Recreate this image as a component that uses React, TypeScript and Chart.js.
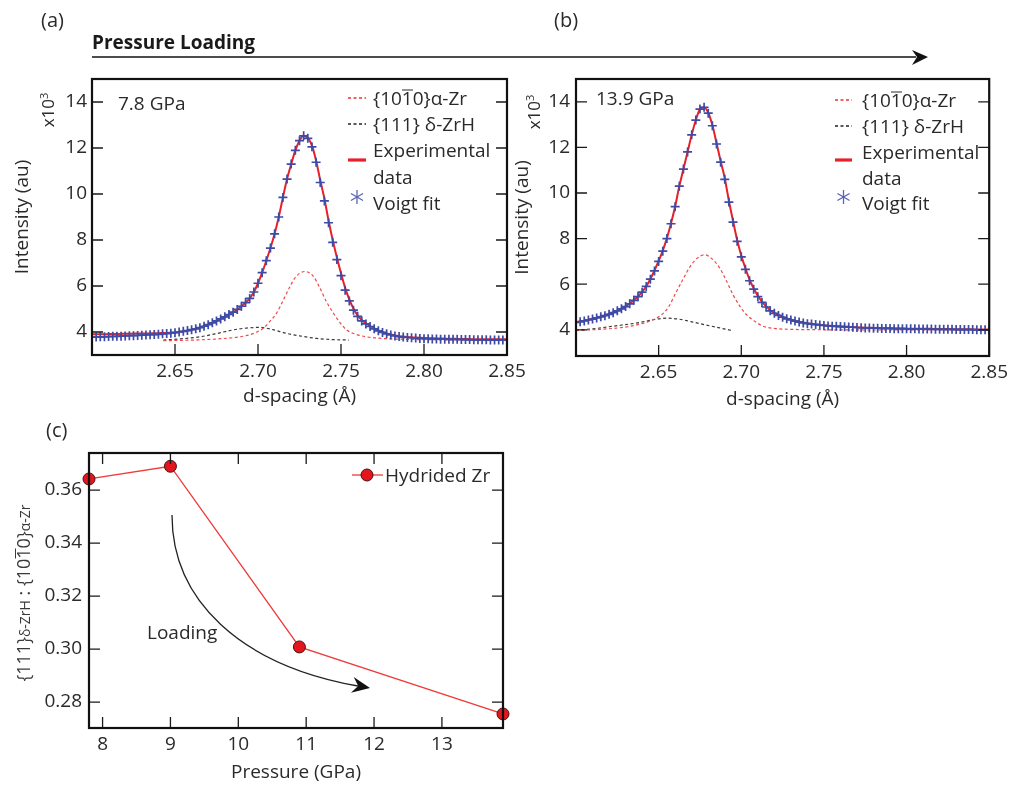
import React, { useEffect, useRef } from 'react';
import { Chart, registerables } from 'chart.js';

Chart.register(...registerables);

// ---------- data ----------
const dSpacing = [
  2.6000, 2.6025, 2.6050, 2.6075, 2.6100, 2.6125, 2.6150, 2.6175, 2.6200, 2.6225,
  2.6250, 2.6275, 2.6300, 2.6325, 2.6350, 2.6375, 2.6400, 2.6425, 2.6450, 2.6475,
  2.6500, 2.6525, 2.6550, 2.6575, 2.6600, 2.6625, 2.6650, 2.6675, 2.6700, 2.6725,
  2.6750, 2.6775, 2.6800, 2.6825, 2.6850, 2.6875, 2.6900, 2.6925, 2.6950, 2.6975,
  2.7000, 2.7025, 2.7050, 2.7075, 2.7100, 2.7125, 2.7150, 2.7175, 2.7200, 2.7225,
  2.7250, 2.7275, 2.7300, 2.7325, 2.7350, 2.7375, 2.7400, 2.7425, 2.7450, 2.7475,
  2.7500, 2.7525, 2.7550, 2.7575, 2.7600, 2.7625, 2.7650, 2.7675, 2.7700, 2.7725,
  2.7750, 2.7775, 2.7800, 2.7825, 2.7850, 2.7875, 2.7900, 2.7925, 2.7950, 2.7975,
  2.8000, 2.8025, 2.8050, 2.8075, 2.8100, 2.8125, 2.8150, 2.8175, 2.8200, 2.8225,
  2.8250, 2.8275, 2.8300, 2.8325, 2.8350, 2.8375, 2.8400, 2.8425, 2.8450, 2.8475,
  2.8500,
];

// (a) 7.8 GPa, intensity x10^3
const fitA = [
  3.78, 3.78, 3.79, 3.79, 3.80, 3.81, 3.81, 3.82, 3.83, 3.84,
  3.84, 3.85, 3.86, 3.87, 3.88, 3.89, 3.90, 3.92, 3.93, 3.95,
  3.97, 4.00, 4.03, 4.06, 4.10, 4.14, 4.19, 4.25, 4.32, 4.40,
  4.48, 4.57, 4.66, 4.76, 4.86, 4.98, 5.12, 5.28, 5.46, 5.74,
  6.12, 6.58, 7.10, 7.65, 8.27, 9.00, 9.85, 10.65, 11.30, 11.90,
  12.32, 12.53, 12.42, 12.05, 11.38, 10.50, 9.70, 8.75, 7.90, 7.15,
  6.45, 5.82, 5.35, 4.95, 4.68, 4.48, 4.35, 4.24, 4.14, 4.05,
  3.98, 3.92, 3.87, 3.83, 3.80, 3.78, 3.76, 3.75, 3.74, 3.72,
  3.71, 3.71, 3.70, 3.70, 3.69, 3.69, 3.68, 3.68, 3.68, 3.67,
  3.67, 3.67, 3.66, 3.66, 3.66, 3.66, 3.65, 3.65, 3.65, 3.65,
  3.65,
];
const expA = [
  3.90, 3.90, 3.90, 3.90, 3.91, 3.91, 3.91, 3.92, 3.92, 3.92,
  3.93, 3.93, 3.93, 3.94, 3.94, 3.95, 3.95, 3.96, 3.96, 3.97,
  3.98, 4.00, 4.03, 4.06, 4.10, 4.14, 4.19, 4.25, 4.32, 4.40,
  4.48, 4.57, 4.66, 4.76, 4.86, 4.98, 5.12, 5.28, 5.46, 5.74,
  6.12, 6.58, 7.10, 7.65, 8.27, 9.00, 9.85, 10.65, 11.30, 11.90,
  12.32, 12.53, 12.44, 12.10, 11.45, 10.60, 9.80, 8.85, 8.00, 7.25,
  6.55, 5.92, 5.42, 5.02, 4.72, 4.52, 4.38, 4.26, 4.16, 4.07,
  4.00, 3.94, 3.89, 3.85, 3.82, 3.80, 3.78, 3.77, 3.76, 3.75,
  3.74, 3.73, 3.73, 3.72, 3.72, 3.71, 3.71, 3.71, 3.70, 3.70,
  3.70, 3.69, 3.69, 3.69, 3.69, 3.68, 3.68, 3.68, 3.68, 3.68,
  3.68,
];
const alphaAx = [2.643, 2.665, 2.678, 2.689, 2.695, 2.699, 2.7032, 2.707, 2.7112, 2.715, 2.7193, 2.723, 2.7282, 2.733, 2.7373, 2.741, 2.7454, 2.7495, 2.7534, 2.759, 2.7654, 2.775, 2.79, 2.81, 2.85];
const alphaAy = [3.62, 3.66, 3.71, 3.79, 3.88, 3.99, 4.16, 4.45, 4.82, 5.35, 5.98, 6.42, 6.63, 6.45, 5.91, 5.35, 4.82, 4.40, 4.09, 3.90, 3.79, 3.72, 3.68, 3.66, 3.64];
const deltaAx = [2.643, 2.655, 2.665, 2.675, 2.685, 2.693, 2.7012, 2.709, 2.7172, 2.726, 2.7353, 2.745, 2.7547];
const deltaAy = [3.65, 3.71, 3.79, 3.93, 4.09, 4.17, 4.20, 4.10, 3.94, 3.82, 3.72, 3.67, 3.65];

// (b) 13.9 GPa
const fitB = [
  4.32, 4.35, 4.39, 4.43, 4.47, 4.52, 4.57, 4.62, 4.68, 4.75,
  4.83, 4.92, 5.02, 5.14, 5.29, 5.45, 5.65, 5.90, 6.22, 6.58,
  7.00, 7.45, 8.00, 8.65, 9.40, 10.30, 11.05, 11.80, 12.55, 13.20,
  13.68, 13.76, 13.50, 12.95, 12.15, 11.35, 10.60, 9.60, 8.72, 7.88,
  7.20, 6.65, 6.15, 5.78, 5.45, 5.20, 5.00, 4.83, 4.72, 4.63,
  4.55, 4.48, 4.43, 4.38, 4.34, 4.30, 4.27, 4.25, 4.23, 4.21,
  4.19, 4.17, 4.16, 4.15, 4.14, 4.13, 4.12, 4.11, 4.10, 4.09,
  4.08, 4.08, 4.07, 4.07, 4.06, 4.06, 4.06, 4.05, 4.05, 4.05,
  4.04, 4.04, 4.04, 4.03, 4.03, 4.03, 4.03, 4.02, 4.02, 4.02,
  4.02, 4.02, 4.01, 4.01, 4.01, 4.01, 4.01, 4.00, 4.00, 4.00,
  4.00,
];
const expB = [
  4.34, 4.37, 4.40, 4.44, 4.48, 4.53, 4.58, 4.63, 4.69, 4.76,
  4.84, 4.93, 5.03, 5.15, 5.30, 5.46, 5.66, 5.91, 6.23, 6.60,
  7.02, 7.47, 8.02, 8.67, 9.42, 10.30, 11.05, 11.80, 12.55, 13.20,
  13.68, 13.76, 13.52, 12.98, 12.20, 11.40, 10.65, 9.66, 8.78, 7.94,
  7.26, 6.70, 6.20, 5.82, 5.49, 5.23, 5.03, 4.86, 4.74, 4.65,
  4.57, 4.50, 4.45, 4.40, 4.36, 4.32, 4.29, 4.26, 4.24, 4.22,
  4.20, 4.18, 4.17, 4.16, 4.15, 4.14, 4.13, 4.12, 4.11, 4.10,
  4.09, 4.09, 4.08, 4.08, 4.07, 4.07, 4.07, 4.06, 4.06, 4.06,
  4.05, 4.05, 4.05, 4.04, 4.04, 4.04, 4.04, 4.03, 4.03, 4.03,
  4.03, 4.03, 4.02, 4.02, 4.02, 4.02, 4.02, 4.01, 4.01, 4.01,
  4.01,
];
const alphaBx = [2.600, 2.6145, 2.6266, 2.636, 2.6445, 2.6507, 2.656, 2.6608, 2.665, 2.6688, 2.673, 2.6779, 2.6825, 2.687, 2.691, 2.695, 2.699, 2.703, 2.708, 2.7131, 2.720, 2.730, 2.750, 2.800, 2.850];
const alphaBy = [3.97, 4.02, 4.09, 4.20, 4.38, 4.60, 5.00, 5.68, 6.25, 6.75, 7.12, 7.29, 7.10, 6.70, 6.15, 5.54, 5.05, 4.67, 4.38, 4.16, 4.06, 4.02, 4.00, 3.99, 3.99];
const deltaBx = [2.600, 2.610, 2.6185, 2.627, 2.637, 2.646, 2.6548, 2.662, 2.670, 2.678, 2.687, 2.695];
const deltaBy = [3.98, 4.04, 4.12, 4.20, 4.30, 4.43, 4.51, 4.47, 4.35, 4.22, 4.08, 3.96];

// (c)
const pressureGPa = [7.8, 9.0, 10.9, 13.9];
const peakRatio = [0.3642, 0.3690, 0.3008, 0.2755];

// tick labels
const dTicks = [2.65, 2.70, 2.75, 2.80, 2.85];
const intensityTicks = [4, 6, 8, 10, 12, 14];
const pressureTicks = [8, 9, 10, 11, 12, 13];
const ratioTicks = [0.28, 0.30, 0.32, 0.34, 0.36];

// ---------- styling ----------
const FONT = '"Open Sans", "Noto Sans", sans-serif';
const TXT = '#2a2a2a';
const RED = '#e8202a';
const BLUE = '#3d4ba5';
const FS = 19;

const zip = (xs: number[], ys: number[]) => xs.map((x, i) => ({ x, y: ys[i] }));

const frameTicks = {
  id: 'frameTicks',
  afterDatasetsDraw(chart: any, _args: any, opts: any) {
    const { ctx, chartArea: a, scales } = chart;
    const L = opts.len ?? 11;
    ctx.save();
    ctx.strokeStyle = '#1a1a1a';
    ctx.lineWidth = 1.3;
    ctx.beginPath();
    scales.x.ticks.forEach((t: any) => {
      const px = scales.x.getPixelForValue(t.value);
      ctx.moveTo(px, a.bottom);
      ctx.lineTo(px, a.bottom - L);
      if (opts.top) {
        ctx.moveTo(px, a.top);
        ctx.lineTo(px, a.top + L);
      }
    });
    scales.y.ticks.forEach((t: any) => {
      const py = scales.y.getPixelForValue(t.value);
      ctx.moveTo(a.left, py);
      ctx.lineTo(a.left + L, py);
      if (opts.right) {
        ctx.moveTo(a.right, py);
        ctx.lineTo(a.right - L, py);
      }
    });
    ctx.stroke();
    ctx.lineWidth = 2.2;
    ctx.strokeStyle = '#111';
    ctx.strokeRect(a.left, a.top, a.right - a.left, a.bottom - a.top);
    ctx.restore();
  },
};

const tickFont = { family: FONT, size: FS };

function spectrumConfig(
  fit: number[], exp: number[], ax: number[], ay: number[], bx: number[], by: number[],
  yMin: number, pad: any, yWidth: number, xHeight: number, yTickPad: number, xTitlePad: number,
): any {
  return {
    type: 'scatter',
    data: {
      datasets: [
        {
          label: 'Voigt fit', data: zip(dSpacing, fit), showLine: false,
          pointStyle: 'cross', pointRadius: 4.5, pointBorderWidth: 1.7,
          borderColor: BLUE, backgroundColor: BLUE,
        },
        {
          label: 'Experimental data', data: zip(dSpacing, exp), showLine: true,
          borderColor: RED, borderWidth: 2, pointRadius: 0, cubicInterpolationMode: 'monotone',
        },
        {
          label: '{10-10} α-Zr', data: zip(ax, ay), showLine: true,
          borderColor: '#f04848', borderWidth: 1.2, borderDash: [3, 2.5], pointRadius: 0,
          cubicInterpolationMode: 'monotone',
        },
        {
          label: '{111} δ-ZrH', data: zip(bx, by), showLine: true,
          borderColor: '#3a3a3a', borderWidth: 1.2, borderDash: [3, 2.5], pointRadius: 0,
          cubicInterpolationMode: 'monotone',
        },
      ],
    },
    options: {
      responsive: false,
      animation: false,
      devicePixelRatio: 1,
      layout: { padding: pad },
      plugins: { legend: { display: false }, tooltip: { enabled: false }, frameTicks: { right: true, top: false, len: 11 } },
      scales: {
        x: {
          type: 'linear', min: 2.6, max: 2.85,
          grid: { display: false, drawTicks: false }, border: { display: false },
          ticks: { autoSkip: false, maxRotation: 0, padding: 5, color: TXT, font: tickFont, callback: (v: any) => Number(v).toFixed(2) },
          title: { display: true, text: 'd-spacing (Å)', color: TXT, font: tickFont, padding: { top: 0, bottom: xTitlePad } },
          afterBuildTicks: (s: any) => { s.ticks = dTicks.map((v) => ({ value: v })); },
          afterFit: (s: any) => { s.height = xHeight; },
        },
        y: {
          type: 'linear', min: yMin, max: 15,
          grid: { display: false, drawTicks: false }, border: { display: false },
          ticks: { autoSkip: false, padding: yTickPad, color: TXT, font: tickFont, callback: (v: any) => String(v) },
          title: { display: true, text: 'Intensity (au)', color: TXT, font: tickFont, padding: { top: 11, bottom: 0 } },
          afterBuildTicks: (s: any) => { s.ticks = intensityTicks.map((v) => ({ value: v })); },
          afterFit: (s: any) => { s.width = yWidth; },
        },
      },
    },
    plugins: [frameTicks],
  };
}

function ratioConfig(): any {
  return {
    type: 'scatter',
    data: {
      datasets: [
        {
          label: 'Hydrided Zr', data: zip(pressureGPa, peakRatio), showLine: true,
          borderColor: '#ee3a3a', borderWidth: 1.3,
          pointRadius: 6, pointBackgroundColor: '#e3161d', pointBorderColor: '#4a1010', pointBorderWidth: 1,
          clip: false,
        },
      ],
    },
    options: {
      responsive: false,
      animation: false,
      devicePixelRatio: 1,
      layout: { padding: { left: 0, top: 33, right: 42, bottom: 0 } },
      plugins: { legend: { display: false }, tooltip: { enabled: false }, frameTicks: { right: true, top: true, len: 11 } },
      scales: {
        x: {
          type: 'linear', min: 7.8, max: 13.9,
          grid: { display: false, drawTicks: false }, border: { display: false },
          ticks: { autoSkip: false, maxRotation: 0, padding: 5, color: TXT, font: tickFont, callback: (v: any) => String(v) },
          title: { display: true, text: 'Pressure (GPa)', color: TXT, font: tickFont, padding: { top: 0, bottom: 1 } },
          afterBuildTicks: (s: any) => { s.ticks = pressureTicks.map((v) => ({ value: v })); },
          afterFit: (s: any) => { s.height = 57; },
        },
        y: {
          type: 'linear', min: 0.2702, max: 0.374,
          grid: { display: false, drawTicks: false }, border: { display: false },
          ticks: { autoSkip: false, padding: 7, color: TXT, font: tickFont, callback: (v: any) => Number(v).toFixed(2) },
          title: { display: false },
          afterBuildTicks: (s: any) => { s.ticks = ratioTicks.map((v) => ({ value: v })); },
          afterFit: (s: any) => { s.width = 89; },
        },
      },
    },
    plugins: [frameTicks],
  };
}

// ---------- overlay helpers ----------
const baseText: React.CSSProperties = {
  position: 'absolute', fontFamily: FONT, fontSize: FS, color: TXT, whiteSpace: 'nowrap', lineHeight: 1,
};

function T({ x, y, children, style }: { x: number; y: number; children: any; style?: React.CSSProperties }) {
  return <div style={{ ...baseText, left: x, top: y, transform: 'translateY(-50%)', ...style }}>{children}</div>;
}

function R({ x, y, children, style }: { x: number; y: number; children: any; style?: React.CSSProperties }) {
  return (
    <div style={{ ...baseText, left: x, top: y, transform: 'translate(-50%, -50%) rotate(-90deg)', ...style }}>{children}</div>
  );
}

// digit with a bar just above it (Miller-Bravais "bar 1")
const Ov = ({ children }: any) => (
  <span style={{ display: 'inline-block', borderTop: '1.3px solid currentColor', lineHeight: 0.78 }}>{children}</span>
);

function Asterisk({ cx, cy, r }: { cx: number; cy: number; r: number }) {
  const dx = r * Math.cos(Math.PI / 6);
  const dy = r * Math.sin(Math.PI / 6);
  return (
    <g stroke="#5a64b4" strokeWidth={1.3}>
      <line x1={cx} y1={cy - r} x2={cx} y2={cy + r} />
      <line x1={cx - dx} y1={cy - dy} x2={cx + dx} y2={cy + dy} />
      <line x1={cx - dx} y1={cy + dy} x2={cx + dx} y2={cy - dy} />
    </g>
  );
}

function LegendGlyphs({ x0, x1, rows }: { x0: number; x1: number; rows: number[] }) {
  const cx = (x0 + x1) / 2;
  return (
    <g>
      <line x1={x0} y1={rows[0]} x2={x1} y2={rows[0]} stroke="#f03030" strokeWidth={1.3} strokeDasharray="3 2.5" />
      <line x1={x0} y1={rows[1]} x2={x1} y2={rows[1]} stroke="#222" strokeWidth={1.3} strokeDasharray="3 2.5" />
      <line x1={x0} y1={rows[2]} x2={x1} y2={rows[2]} stroke={RED} strokeWidth={3.2} />
      <Asterisk cx={cx} cy={rows[3]} r={7} />
    </g>
  );
}

export default function App() {
  const refA = useRef<HTMLCanvasElement>(null);
  const refB = useRef<HTMLCanvasElement>(null);
  const refC = useRef<HTMLCanvasElement>(null);

  useEffect(() => {
    document.body.style.margin = '0';
    const charts = [
      new Chart(refA.current as HTMLCanvasElement, spectrumConfig(
        fitA, expA, alphaAx, alphaAy, deltaAx, deltaAy, 3,
        { left: 0, top: 39, right: 38, bottom: 0 }, 92, 70, 5, 16.6,
      )),
      new Chart(refB.current as HTMLCanvasElement, spectrumConfig(
        fitB, expB, alphaBx, alphaBy, deltaBx, deltaBy, 2.85,
        { left: 0, top: 39, right: 23, bottom: 0 }, 76, 69, 6, 13.6,
      )),
      new Chart(refC.current as HTMLCanvasElement, ratioConfig()),
    ];
    return () => charts.forEach((c) => c.destroy());
  }, []);

  return (
    <div style={{ position: 'relative', width: 1013, height: 785, background: '#fff', overflow: 'hidden' }}>
      <canvas ref={refA} width={545} height={385} style={{ position: 'absolute', left: 0, top: 40 }} />
      <canvas ref={refB} width={513} height={385} style={{ position: 'absolute', left: 500, top: 40 }} />
      <canvas ref={refC} width={545} height={365} style={{ position: 'absolute', left: 0, top: 420 }} />

      <svg width={1013} height={785} style={{ position: 'absolute', left: 0, top: 0, pointerEvents: 'none' }}>
        {/* pressure loading arrow */}
        <line x1={92} y1={57} x2={916} y2={57} stroke="#111" strokeWidth={1.5} />
        <path d="M928,57 L912,50 L917,57 L912,65 Z" fill="#111" />
        {/* legends (a) and (b) */}
        <LegendGlyphs x0={348} x1={366} rows={[98, 124, 160, 197]} />
        <LegendGlyphs x0={835} x1={852} rows={[100, 126, 160, 197]} />
        {/* legend (c) */}
        <line x1={352} y1={475} x2={383} y2={475} stroke="#ee3a3a" strokeWidth={1.3} />
        <circle cx={367} cy={475} r={6} fill="#e3161d" stroke="#4a1010" strokeWidth={1} />
        {/* loading curved arrow */}
        <path d="M172,515 C172,600 240,665 358,686" stroke="#222" strokeWidth={1.3} fill="none" />
        <path d="M370,688 L353.7,677 L358.2,686 L350.9,692.8 Z" fill="#111" />
      </svg>

      <T x={41} y={20} style={{ fontSize: 20 }}>(a)</T>
      <T x={554} y={20} style={{ fontSize: 20 }}>(b)</T>
      <T x={46} y={430} style={{ fontSize: 20 }}>(c)</T>
      <T x={92} y={42} style={{ fontWeight: 700, color: '#1a1a1a' }}>Pressure Loading</T>

      <T x={118} y={103}>7.8 GPa</T>
      <T x={596} y={98}>13.9 GPa</T>

      <T x={373} y={98}>{'{'}10<Ov>1</Ov>0{'}'}α-Zr</T>
      <T x={373} y={124}>{'{111} δ-ZrH'}</T>
      <T x={373} y={150}>Experimental</T>
      <T x={373} y={177}>data</T>
      <T x={373} y={203}>Voigt fit</T>

      <T x={862} y={100}>{'{'}10<Ov>1</Ov>0{'}'}α-Zr</T>
      <T x={862} y={126}>{'{111} δ-ZrH'}</T>
      <T x={862} y={152}>Experimental</T>
      <T x={862} y={178}>data</T>
      <T x={862} y={203}>Voigt fit</T>

      <R x={47} y={110} style={{ fontSize: 17 }}>x10<sup style={{ fontSize: 11 }}>3</sup></R>
      <R x={533} y={112} style={{ fontSize: 17 }}>x10<sup style={{ fontSize: 11 }}>3</sup></R>

      <T x={385} y={475}>Hydrided Zr</T>
      <T x={147} y={632}>Loading</T>

      <R x={23} y={593} style={{ fontSize: 18, color: '#3a3a3a' }}>
        {'{111}'}<span style={{ fontSize: 14 }}>δ-ZrH</span>{' : {'}10<Ov>1</Ov>0{'}'}<span style={{ fontSize: 14 }}>α-Zr</span>
      </R>
    </div>
  );
}
